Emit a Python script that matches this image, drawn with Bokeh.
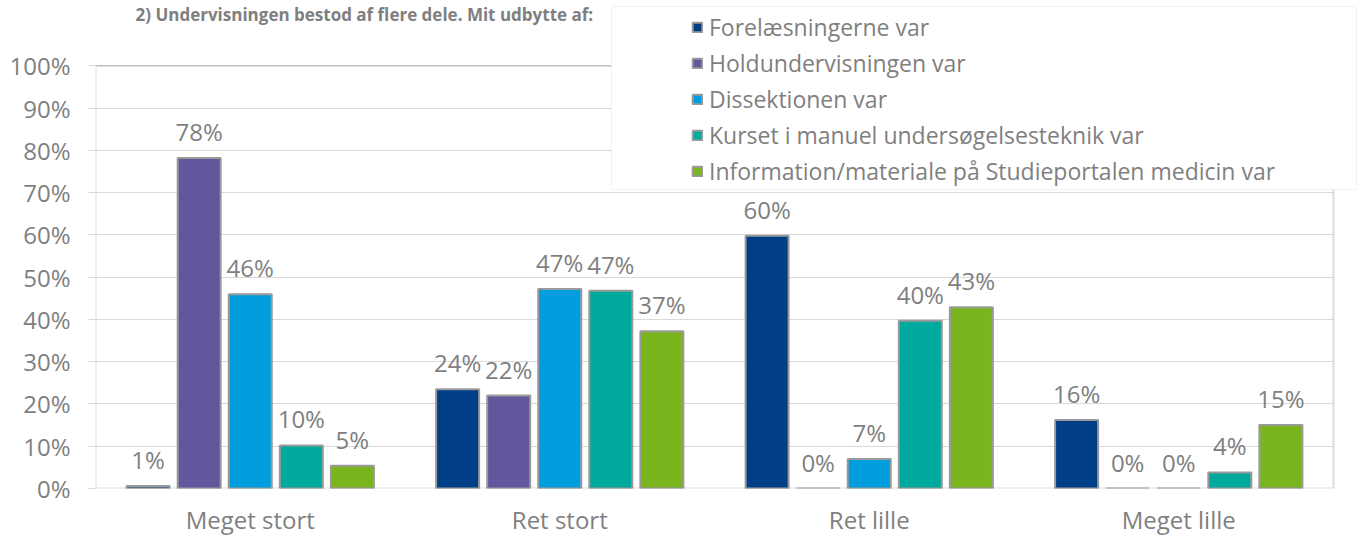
from bokeh.plotting import figure
from bokeh.models import (Range1d, ColumnDataSource, LabelSet, Legend, LegendItem,
                          FixedTicker, PrintfTickFormatter, BoxAnnotation, Label)
from bokeh.core.properties import value
from bokeh.transform import dodge
from bokeh.embed import file_html
from bokeh.resources import INLINE

title_text = "2) Undervisningen bestod af flere dele. Mit udbytte af:"
categories = ["Meget stort", "Ret stort", "Ret lille", "Meget lille"]
series = ["Forelæsningerne var", "Holdundervisningen var", "Dissektionen var",
          "Kurset i manuel undersøgelsesteknik var",
          "Information/materiale på Studieportalen medicin var"]
forelaesninger = [0.6, 23.5, 59.8, 16.2]
holdundervisning = [78.2, 22.0, 0.0, 0.0]
dissektion = [46.0, 47.2, 7.0, 0.0]
kursus = [10.2, 46.8, 39.7, 3.8]
information = [5.4, 37.2, 42.9, 15.0]
colors = ["#003f87", "#62579c", "#009ddf", "#00a99d", "#7ab51d"]
y_ticks = [0, 10, 20, 30, 40, 50, 60, 70, 80, 90, 100]

FONT = "Open Sans"
GREY = "#7f7f7f"
FRAME = "#8c8c8c"

n = len(categories)
cat_x = [i + 0.5 for i in range(n)]
keys = ["s0", "s1", "s2", "s3", "s4"]
all_vals = [forelaesninger, holdundervisning, dissektion, kursus, information]
data = {"x": cat_x}
for k, vals in zip(keys, all_vals):
    data[k] = vals
    data[k + "_lbl"] = ["%d%%" % round(v) for v in vals]
src = ColumnDataSource(data)

x_end = n + 24 / 309.5
y_end = 100 * 492 / 426.0

p = figure(width=1367, height=538, x_range=Range1d(0, x_end), y_range=Range1d(0, y_end),
           output_backend="svg", toolbar_location=None,
           min_border_left=95, min_border_right=10, min_border_top=0, min_border_bottom=46)

p.outline_line_color = None
p.xgrid.grid_line_color = None
p.ygrid.grid_line_color = "#d9d9d9"
p.ygrid.grid_line_width = 1

p.yaxis.ticker = FixedTicker(ticks=y_ticks)
p.yaxis.formatter = PrintfTickFormatter(format="%d%%")
p.yaxis.axis_line_color = None
p.yaxis.major_tick_out = 7
p.yaxis.major_tick_in = 0
p.yaxis.major_tick_line_color = "#d9d9d9"
p.yaxis.minor_tick_line_color = None
p.yaxis.major_label_standoff = 18
p.yaxis.major_label_text_font = FONT
p.yaxis.major_label_text_font_size = "24px"
p.yaxis.major_label_text_color = GREY

p.xaxis.ticker = FixedTicker(ticks=cat_x)
p.xaxis.major_label_overrides = {x: c for x, c in zip(cat_x, categories)}
p.xaxis.axis_line_color = None
p.xaxis.major_tick_line_color = None
p.xaxis.minor_tick_line_color = None
p.xaxis.major_tick_out = 0
p.xaxis.major_tick_in = 0
p.xaxis.major_label_standoff = 14
p.xaxis.major_label_text_font = FONT
p.xaxis.major_label_text_font_size = "24px"
p.xaxis.major_label_text_color = GREY

# white mask right of the plot area (gridlines stop at the frame in the reference)
mask = BoxAnnotation(left=n, right=x_end, bottom=0, top=100, fill_color="white",
                     fill_alpha=1.0, line_alpha=0, level="underlay")
p.add_layout(mask)

step = 0.165
bw = 0.139
renderers = []
for i, k in enumerate(keys):
    off = (i - 2) * step
    r = p.vbar(x=dodge("x", off), top=k, width=bw, source=src,
               fill_color=colors[i], line_color="#9a9a9a", line_width=2)
    renderers.append(r)

# plot-area frame
frame = BoxAnnotation(left=0, right=n, bottom=0, top=100, fill_alpha=0,
                      line_color=FRAME, line_width=2)
p.add_layout(frame)

for i, k in enumerate(keys):
    off = (i - 2) * step
    ls = LabelSet(x=dodge("x", off), y=k, text=k + "_lbl", source=src,
                  y_offset=10, text_align="center", text_baseline="bottom",
                  text_font=value(FONT), text_font_size="24px", text_color=GREY)
    p.add_layout(ls)

box = BoxAnnotation(left=516, right=1261, top=482, bottom=299,
                    left_units="screen", right_units="screen", top_units="screen",
                    bottom_units="screen", fill_color="white", fill_alpha=1.0,
                    line_color="#d0d0d0", line_width=1, level="overlay")
p.add_layout(box)

legend = Legend(items=[LegendItem(label=s, renderers=[r]) for s, r in zip(series, renderers)],
                location=(596, 301), padding=0, spacing=4, label_height=20,
                glyph_height=12, glyph_width=12, label_standoff=6,
                background_fill_alpha=0, border_line_alpha=0,
                label_text_font=FONT, label_text_font_size="23px",
                label_text_color=GREY, level="overlay")
p.add_layout(legend)

title = Label(x=40, y=486, x_units="screen", y_units="screen", text=title_text,
              text_font=FONT, text_font_size="17px", text_font_style="bold",
              text_color=GREY, text_baseline="top")
p.add_layout(title)

open("out.html", "w").write(file_html(p, INLINE))
